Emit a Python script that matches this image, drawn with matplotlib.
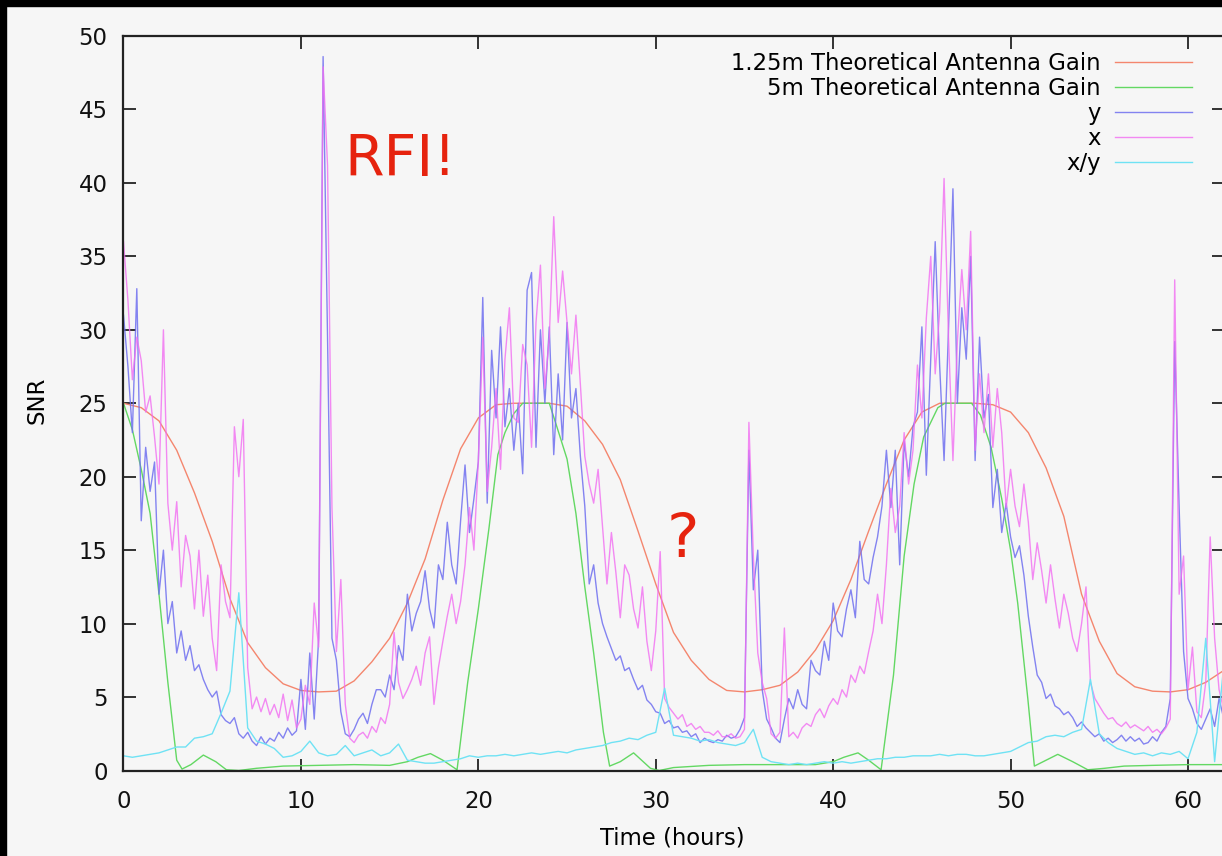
import numpy as np
import matplotlib
matplotlib.use("Agg")
import matplotlib.pyplot as plt
from matplotlib.patches import Rectangle

plt.rcParams["font.family"] = ["DejaVu Sans"]

# ── Data ──
# theoretical antenna gain curves
gain_t = list(range(63))
gain_125 = [25.0, 24.7, 23.8, 21.8, 18.9, 15.6, 11.7, 8.7, 7.0, 5.9,
            5.45, 5.35, 5.4, 6.1, 7.4, 9.0, 11.4, 14.4, 18.4, 21.9,
            24.0, 24.9, 25.0, 25.0, 25.0, 24.8, 23.8, 22.2, 19.8, 16.3,
            12.7, 9.4, 7.5, 6.2, 5.45, 5.35, 5.5, 5.8, 6.7, 8.2,
            10.2, 13.0, 16.3, 19.5, 22.5, 24.4, 25.0, 25.0, 25.0, 24.9,
            24.4, 23.0, 20.6, 17.3, 12.0, 8.8, 6.6, 5.7, 5.4, 5.35,
            5.5, 6.0, 6.8]

gain5_t = [0, 0.5, 1.0, 1.5, 2.0, 2.5, 3.0, 3.3, 3.8, 4.5, 5.2, 5.8, 6.5, 7.5, 9, 11, 13, 15,
           16, 16.6, 17.3, 18.0, 18.8, 19.4, 20.0, 20.6, 21.1, 21.5, 22.0, 22.5, 24.0,
           24.4, 25.0, 25.5, 26.0, 26.5, 27.05, 27.4, 28.0, 28.75, 29.7, 30.2, 31, 33, 35, 37, 39,
           40, 40.6, 41.4, 42.0, 42.7, 43.4, 44.0, 44.56, 45.1, 45.9, 46.3, 47.8,
           48.3, 48.9, 49.5, 50.0, 50.4, 50.97, 51.34, 52.0, 52.66, 53.5, 54.35, 55.3, 56.4, 58, 60, 62]
gain_5 = [25.0, 23.2, 20.5, 17.5, 12.0, 6.0, 0.7, 0.1, 0.4, 1.05, 0.6, 0.05, 0.0, 0.15, 0.3, 0.35, 0.4, 0.35,
          0.6, 0.9, 1.15, 0.7, 0.05, 6.0, 11.0, 16.5, 21.5, 23.0, 24.3, 25.0, 25.0,
          23.5, 21.2, 17.5, 12.5, 8.0, 2.6, 0.3, 0.6, 1.2, 0.15, 0.0, 0.2, 0.35, 0.4, 0.4, 0.4,
          0.6, 0.9, 1.2, 0.7, 0.05, 6.5, 14.6, 19.5, 22.7, 24.7, 25.0, 25.0,
          24.2, 22.0, 18.5, 15.0, 11.4, 4.9, 0.3, 0.7, 1.1, 0.6, 0.05, 0.15, 0.3, 0.35, 0.4, 0.4]

# measured SNR, one sample every 15 minutes from t=0 to t=62 h
snr_y = [31, 27.5, 23, 32.8, 17, 22, 19, 21,
         12, 15, 10, 11.5, 8, 9.5, 7.5, 8.5,
         6.8, 7.2, 6.2, 5.5, 5.0, 5.4, 3.8, 3.4,
         3.2, 3.6, 2.5, 2.2, 2.6, 2.0, 1.7, 2.3,
         1.8, 2.2, 2.0, 2.6, 2.2, 2.9, 2.4, 2.7,
         6.2, 2.8, 8.0, 3.5, 9.0, 48.6, 29.5, 9.0,
         7.5, 4.0, 2.5, 2.3, 2.8, 3.5, 3.9, 3.2,
         4.5, 5.5, 5.5, 5.0, 6.5, 5.5, 8.5, 7.5,
         12.0, 9.5, 10.7, 11.5, 13.6, 11.0, 9.7, 14.0,
         13.0, 16.9, 14.0, 12.7, 17.0, 20.8, 16.2, 18.5,
         21.0, 32.2, 18.2, 28.6, 24.0, 30.2, 23.4, 26.0,
         21.8, 25.0, 20.2, 32.7, 33.9, 22.0, 30.0, 25.0,
         30.2, 21.5, 27.0, 22.5, 30.5, 24.0, 26.0, 21.4,
         18.0, 12.7, 14.0, 11.4, 10.0, 9.1, 8.3, 7.5,
         7.8, 6.8, 7.0, 6.2, 5.5, 5.8, 4.8, 4.5,
         4.0, 3.9, 3.2, 3.4, 2.9, 3.0, 2.6, 2.7,
         2.3, 2.5, 1.9, 2.2, 2.0, 1.9, 2.1, 2.0,
         2.4, 2.2, 2.3, 2.8, 3.6, 21.8, 12.3, 15.0,
         5.5, 3.5, 2.9, 2.2, 1.9, 3.5, 4.9, 4.2,
         5.5, 4.5, 4.2, 7.5, 6.8, 6.5, 8.8, 7.5,
         11.4, 9.5, 9.1, 11.0, 12.3, 10.4, 15.6, 13.0,
         12.7, 14.5, 15.9, 18.0, 21.8, 17.9, 21.8, 14.0,
         22.4, 20.0, 23.4, 24.4, 30.2, 20.1, 28.0, 36.0,
         27.6, 21.1, 30.0, 39.6, 25.0, 31.5, 28.0, 35.0,
         21.1, 29.5, 24.0, 25.6, 17.9, 20.5, 16.2, 18.2,
         15.9, 14.5, 15.3, 13.3, 10.5, 8.4, 6.5, 6.0,
         4.9, 5.2, 4.4, 4.2, 3.8, 4.0, 3.6, 3.0,
         3.3, 2.9, 2.6, 2.3, 2.5, 2.0, 2.2, 1.9,
         2.1, 2.4, 2.0, 2.3, 2.0, 2.2, 1.8, 1.9,
         2.3, 2.0, 2.6, 3.0, 4.9, 29.2, 17.9, 8.1,
         4.9, 4.2, 3.2, 2.8, 3.5, 4.2, 3.0, 4.9,
         3.6]

snr_x = [36.0, 32.0, 26.6, 29.5, 27.9, 24.4, 25.5, 22.7,
         19.5, 30.0, 18.2, 15.0, 18.3, 12.5, 16.0, 14.6,
         11.0, 15.0, 10.5, 13.3, 9.0, 6.8, 14.0, 11.5,
         10.4, 23.4, 20.0, 23.9, 7.0, 4.2, 5.0, 4.0,
         4.9, 3.8, 4.5, 3.6, 5.2, 3.4, 4.8, 2.9,
         3.5, 5.8, 4.5, 11.4, 8.4, 47.9, 41.2, 17.9,
         8.1, 13.0, 4.5, 2.2, 1.9, 2.4, 2.6, 2.2,
         3.0, 2.6, 3.6, 3.2, 4.5, 9.4, 6.0, 4.9,
         5.5, 6.2, 7.1, 5.8, 8.0, 9.1, 4.5, 7.0,
         8.8, 10.5, 12.0, 10.0, 11.5, 14.0, 17.9, 15.0,
         21.1, 29.5, 19.0, 22.0, 26.0, 20.5, 28.0, 31.5,
         24.0, 23.7, 29.0, 27.6, 22.0, 30.5, 34.4, 26.0,
         29.5, 37.7, 30.5, 34.0, 30.5, 27.0, 31.0, 26.3,
         21.4, 19.5, 18.2, 20.5, 16.6, 12.7, 16.2, 13.5,
         10.4, 14.0, 13.3, 11.0, 9.7, 12.5, 8.8, 6.8,
         9.5, 14.9, 4.9, 4.3, 3.9, 3.5, 3.8, 3.0,
         3.2, 2.8, 3.0, 2.6, 2.6, 2.4, 2.7, 2.3,
         2.3, 2.5, 2.2, 2.3, 2.8, 23.7, 14.6, 8.0,
         6.0, 4.9, 2.5, 2.2, 2.6, 9.7, 2.3, 2.6,
         2.2, 2.9, 3.2, 3.0, 3.8, 4.2, 3.6, 4.4,
         4.9, 4.5, 5.5, 5.0, 6.5, 6.0, 7.1, 6.6,
         8.1, 9.5, 12.0, 10.0, 14.0, 19.2, 16.2, 18.0,
         23.0, 19.5, 21.8, 27.6, 24.0, 30.8, 35.0, 27.0,
         31.2, 40.3, 29.5, 21.1, 29.2, 34.1, 30.0, 36.7,
         21.8, 27.0, 23.0, 27.0, 22.0, 26.0, 23.0, 17.9,
         20.5, 18.0, 16.6, 19.5, 16.9, 13.0, 15.5, 13.6,
         11.4, 14.0, 11.7, 9.7, 12.0, 10.7, 9.0, 8.1,
         10.0, 12.5, 6.0, 4.9, 4.4, 3.9, 3.5, 3.6,
         3.2, 3.0, 3.3, 2.9, 3.1, 2.9, 2.7, 3.0,
         2.6, 2.8, 2.5, 2.9, 3.5, 33.4, 12.0, 14.6,
         5.5, 8.4, 4.0, 3.6, 6.0, 15.9, 9.0, 5.5,
         4.2]

# x/y ratio, one sample every 30 minutes
snr_xy = [1.0, 0.9, 1.0, 1.1, 1.2, 1.4, 1.6, 1.6, 2.2, 2.3,
          2.5, 3.9, 5.4, 12.1, 2.9, 2.0, 1.8, 1.5, 0.9, 1.0,
          1.3, 2.0, 1.2, 1.0, 1.1, 1.7, 1.0, 1.2, 1.4, 1.0,
          1.2, 1.8, 0.7, 0.6, 0.5, 0.5, 0.6, 0.7, 0.8, 1.0,
          0.9, 1.0, 1.0, 1.1, 1.0, 1.1, 1.2, 1.1, 1.2, 1.3,
          1.2, 1.4, 1.5, 1.6, 1.7, 1.9, 2.0, 2.2, 2.1, 2.4,
          2.6, 5.6, 2.4, 2.3, 2.2, 2.0, 2.1, 1.9, 1.8, 1.7,
          1.9, 2.8, 0.9, 0.6, 0.5, 0.4, 0.5, 0.4, 0.5, 0.6,
          0.5, 0.6, 0.5, 0.6, 0.7, 0.8, 0.8, 0.9, 0.9, 1.0,
          1.0, 1.0, 1.1, 1.0, 1.1, 1.1, 1.0, 1.0, 1.1, 1.2,
          1.3, 1.6, 1.9, 2.0, 2.3, 2.4, 2.3, 2.6, 2.8, 6.2,
          2.5, 1.9, 1.5, 1.3, 1.1, 1.2, 1.0, 1.2, 1.1, 1.3,
          0.8, 2.6, 9.0, 0.6, 7.0]

t_q = np.arange(len(snr_y)) * 0.25
t_h = np.arange(len(snr_xy)) * 0.5

LABELS = ["1.25m Theoretical Antenna Gain", "5m Theoretical Antenna Gain", "y", "x", "x/y"]
COLORS = ["#f4866e", "#63d863", "#6f6ff0", "#f26ef2", "#6fe2f4"]
BG = "#f6f6f6"
FS = 16.4
LW = 1.0

W, H = 1222, 856
fig = plt.figure(figsize=(W / 100, H / 100), dpi=100)
fig.patch.set_facecolor(BG)
ax = fig.add_axes([123.5 / W, 85.5 / H, 1100 / W, 734.5 / H])
ax.set_facecolor(BG)

ax.plot(gain_t, gain_125, color=COLORS[0], lw=LW, label=LABELS[0])
ax.plot(gain5_t, gain_5, color=COLORS[1], lw=LW, label=LABELS[1])
ax.plot(t_q, snr_y, color=COLORS[2], lw=LW, alpha=0.85, label=LABELS[2])
ax.plot(t_q, snr_x, color=COLORS[3], lw=LW, alpha=0.8, label=LABELS[3])
ax.plot(t_h, snr_xy, color=COLORS[4], lw=LW, label=LABELS[4])

ax.set_xlim(0, 62)
ax.set_ylim(0, 50)
ax.set_xticks(range(0, 61, 10))
ax.set_yticks(range(0, 51, 5))
ax.tick_params(direction="in", length=9, width=1.2, top=True, right=True,
               labelsize=FS, colors="#111")
ax.tick_params(axis="x", pad=14)
ax.tick_params(axis="y", pad=11.5)
for sp in ax.spines.values():
    sp.set_linewidth(1.6)
    sp.set_color("#222")

ax.set_xlabel("Time (hours)", fontsize=FS)
ax.set_ylabel("SNR", fontsize=FS)
ax.xaxis.set_label_coords(0.4986, -0.0756)
ax.yaxis.set_label_coords(-0.068, 0.504)

ax.legend(loc="upper right", bbox_to_anchor=(0.9714, 0.9785), frameon=False,
          markerfirst=False, fontsize=FS, handlelength=3.4, handletextpad=0.6,
          labelspacing=0.09, borderpad=0, borderaxespad=0)

# hand-written annotations
ax.text(12.45, 40.5, "RFI!", color="#e6230e", fontsize=41, va="baseline")
ax.text(30.6, 14.5, "?", color="#e6230e", fontsize=44, va="baseline")

# black frame strips on left and top edges
fig.add_artist(Rectangle((0, 0), 6 / W, 1, transform=fig.transFigure, color="black", zorder=10))
fig.add_artist(Rectangle((0, 1 - 6 / H), 1, 6 / H, transform=fig.transFigure, color="black", zorder=10))

fig.savefig("out.png", dpi=100, facecolor=BG)
